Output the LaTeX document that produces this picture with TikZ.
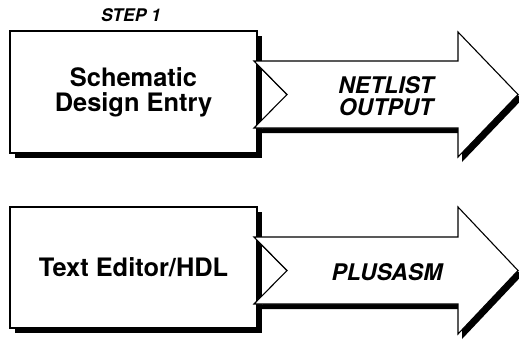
\documentclass[tikz,border=0pt]{standalone}
\usepackage{fontspec}
\setmainfont{TeX Gyre Heros}
\usetikzlibrary{shadows}
\begin{document}
\begin{tikzpicture}[x=1bp,y=-1bp,line width=1.1bp,line join=miter]
\tikzset{
  stepbox/.style={draw,fill=white,inner sep=0pt,minimum width=247bp,align=center,
    font=\bfseries\fontsize{25.5}{25}\selectfont,
    general shadow={fill=black,shadow xshift=5bp,shadow yshift=-5bp}},
  bigarrow/.style={draw,fill=white,
    preaction={fill=black,transform canvas={xshift=4bp,yshift=-5bp}}},
  arrowlbl/.style={inner sep=0pt,align=center,font=\bfseries\itshape\fontsize{23}{22.5}\selectfont},
  steplbl/.style={inner sep=0pt,font=\bfseries\itshape\fontsize{17.5}{17.5}\selectfont}
}
\useasboundingbox (0,0) rectangle (519,340);
% boxes
\node[stepbox,minimum height=122bp] (b1) at (133.5,92) {Schematic\\Design Entry};
\node[stepbox,minimum height=121bp] (b2) at (133.5,267.5) {Text Editor/HDL};
% arrows
\path[bigarrow] (254,61) -- (458,61) -- (458,32) -- (518,94.5) -- (458,157)
   -- (458,128) -- (254,128) -- (287,94.5) -- cycle;
\path[bigarrow] (254,237) -- (458,237) -- (458,207) -- (518,270.5) -- (458,334)
   -- (458,304) -- (254,304) -- (287,270.5) -- cycle;
% labels
\node[steplbl,anchor=base] (s1) at (131,21.5) {STEP 1};
\node[arrowlbl] (a1) at (386,96) {NETLIST\\OUTPUT};
\node[arrowlbl] (a2) at (387,272.5) {PLUSASM};
\end{tikzpicture}
\end{document}
